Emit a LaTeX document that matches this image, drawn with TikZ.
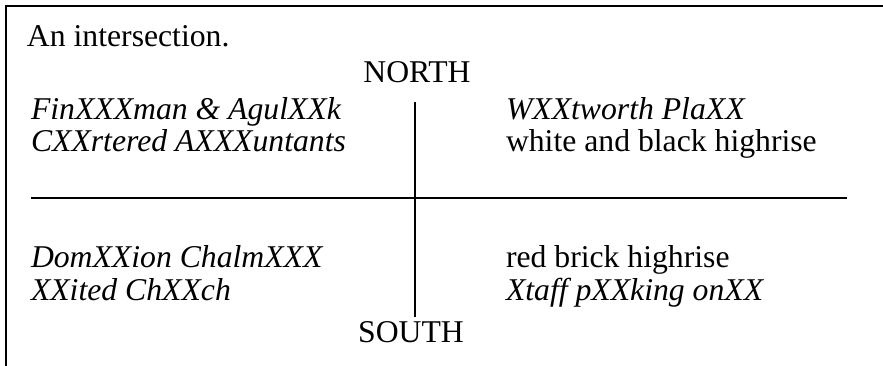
\documentclass[tikz,border=0pt]{standalone}
\usepackage{fontspec}
\setmainfont{Liberation Serif}
\begin{document}
\begin{tikzpicture}[x=1pt,y=-1pt,
  txt/.style={inner sep=0pt,outer sep=0pt,anchor=base west,font=\fontsize{31.7}{33}\selectfont},
  itxt/.style={txt,font=\fontsize{31.7}{33}\selectfont\itshape},
  ctxt/.style={txt,anchor=base},
  rule/.style={line width=2pt}]
\useasboundingbox (0,0) rectangle (883,365);
% frame (open at right and bottom)
\coordinate (fbl) at (6,366);
\coordinate (ftl) at (6,5.5);
\coordinate (ftr) at (884,5.5);
\draw[rule] (fbl) -- (ftl) -- (ftr);
% title
\node[txt] (title) at (27,46) {An intersection.};
\node[ctxt] (north) at (417,82) {NORTH};
\node[ctxt] (south) at (411,342) {SOUTH};
% cross
\coordinate (vt) at (415,102);
\coordinate (vb) at (415,317);
\coordinate (hl) at (31,197.5);
\coordinate (hr) at (847,197.5);
\draw[rule] (vt) -- (vb);
\draw[rule] (hl) -- (hr);
% quadrants
\node[itxt] (nw1) at (31,119) {FinXXXman \& AgulXXk};
\node[itxt] (nw2) at (31,151) {CXXrtered AXXXuntants};
\node[itxt] (ne1) at (506,119) {WXXtworth PlaXX};
\node[txt]  (ne2) at (506,151) {white and black highrise};
\node[itxt] (sw1) at (31,267) {DomXXion ChalmXXX};
\node[itxt] (sw2) at (31,300) {XXited ChXXch};
\node[txt]  (se1) at (506,267) {red brick highrise};
\node[itxt] (se2) at (506,300) {Xtaff pXXking onXX};
\end{tikzpicture}
\end{document}
